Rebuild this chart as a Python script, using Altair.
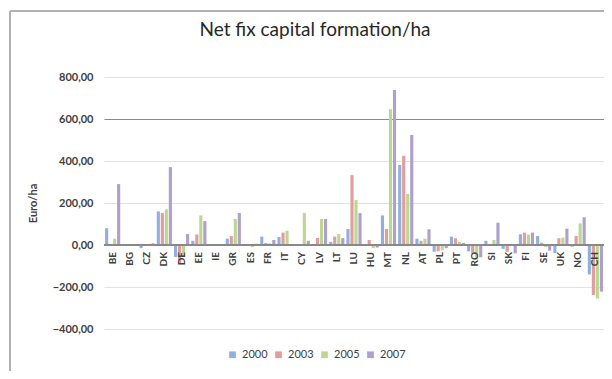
import altair as alt
import pandas as pd

countries = ["BE", "BG", "CZ", "DK", "DE", "EE", "IE", "GR", "ES", "FR", "IT", "CY", "LV", "LT",
             "LU", "HU", "MT", "NL", "AT", "PL", "PT", "RO", "SI", "SK", "FI", "SE", "UK", "NO", "CH"]
years = ["2000", "2003", "2005", "2007"]

v2000 = [80, 5, -15, 160, -57, 20, 0, 30, 3, 40, 38, 2, 0, 15,
         76, -2, 141, 381, 30, -32, 40, -30, 20, -18, 51, 43, -38, -8, -140]
v2003 = [-5, 0, -2, 152, -87, 50, 0, 43, 2, 10, 59, 0, 33, 40,
         333, 24, 76, 425, 20, -30, 32, -40, 0, -33, 59, 11, 32, 43, -238]
v2005 = [30, 2, 5, 170, -55, 141, 0, 124, -10, 8, 68, 152, 124, 52,
         214, -15, 646, 243, 30, -25, 15, -70, 24, -3, 50, -10, 35, 103, -255]
v2007 = [290, 0, 8, 371, 52, 114, 0, 152, 6, 24, -2, 20, 124, 33,
         152, -12, 738, 524, 75, -15, 10, -58, 106, -40, 59, -27, 78, 132, -222]

y_ticks = [-400, -200, 0, 200, 400, 600, 800]
colors = ["#8fb0df", "#e39c9c", "#bcd790", "#ae9fcd"]
chart_title = "Net fix capital formation/ha"

rows = []
for yr, vals in zip(years, [v2000, v2003, v2005, v2007]):
    for c, v in zip(countries, vals):
        rows.append({"country": c, "year": yr, "value": v})
df = pd.DataFrame(rows)
labels_df = pd.DataFrame({"country": countries})
title_df = pd.DataFrame({"title": [chart_title]})

FONT = "Lato"
x_scale = alt.Scale(paddingInner=0.12, paddingOuter=0.06)
y_scale = alt.Scale(domain=[-400, 800], nice=False, zero=False)

bars = alt.Chart(df).mark_bar().encode(
    x=alt.X("country:N", sort=countries, scale=x_scale, axis=None),
    xOffset=alt.XOffset("year:N", sort=years, scale=alt.Scale(paddingInner=0.22)),
    y=alt.Y("value:Q", scale=y_scale,
            axis=alt.Axis(values=y_ticks,
                          labelExpr="replace(format(datum.value, '.2f'), '.', ',')",
                          title="Euro/ha", titleAngle=270, titleAlign="center",
                          titleBaseline="middle", titleX=-71, titleY=126,
                          titleFont=FONT, titleFontSize=11, titleFontWeight="bold",
                          titleColor="#404040",
                          labelFont=FONT, labelFontSize=11, labelFontWeight="bold",
                          labelColor="#404040", labelPadding=11,
                          ticks=False, tickSize=0, domain=False,
                          gridColor={"condition": {"test": "datum.value === 600", "value": "#8a8a8a"},
                                     "value": "#e2e2e2"},
                          gridWidth=1)),
    color=alt.Color("year:N", sort=years,
                    scale=alt.Scale(domain=years, range=colors),
                    legend=alt.Legend(orient="none", legendX=123, legendY=272,
                                      direction="horizontal", title=None,
                                      symbolType="square", symbolSize=45,
                                      symbolStrokeWidth=0, labelFont=FONT,
                                      labelFontSize=11, labelColor="#404040",
                                      labelOffset=4, columnPadding=5)),
)

zero_line = alt.Chart(labels_df).mark_rule(color="#888888", strokeWidth=1).encode(
    y=alt.datum(0)
)

x_labels = alt.Chart(labels_df).mark_text(
    angle=270, align="right", baseline="middle", dx=-7,
    font=FONT, fontSize=10, fontWeight="bold", color="#404040"
).encode(
    x=alt.X("country:N", sort=countries, scale=x_scale, axis=None),
    y=alt.datum(0),
    text="country:N",
)

title_text = alt.Chart(title_df).mark_text(
    align="center", baseline="alphabetic", font=FONT, fontSize=19,
    color="#262626"
).encode(
    x=alt.value(211), y=alt.value(-41), text="title:N"
)

frame_left = alt.Chart(labels_df).mark_rule(color="#b0b0b0", strokeWidth=2).encode(
    x=alt.value(-94), y=alt.value(-66), y2=alt.value(310)
)
frame_top = alt.Chart(labels_df).mark_rule(color="#b0b0b0", strokeWidth=1.5).encode(
    x=alt.value(-94), x2=alt.value(520), y=alt.value(-66)
)

chart = alt.layer(frame_left, frame_top, title_text, bars, zero_line, x_labels).properties(
    width=500, height=252,
    autosize=alt.AutoSizeParams(type="none"),
    padding={"left": 96, "top": 69, "right": 0, "bottom": 42},
).configure_view(stroke=None)

chart.save("out.html", embed_options={"renderer": "svg", "actions": False})
